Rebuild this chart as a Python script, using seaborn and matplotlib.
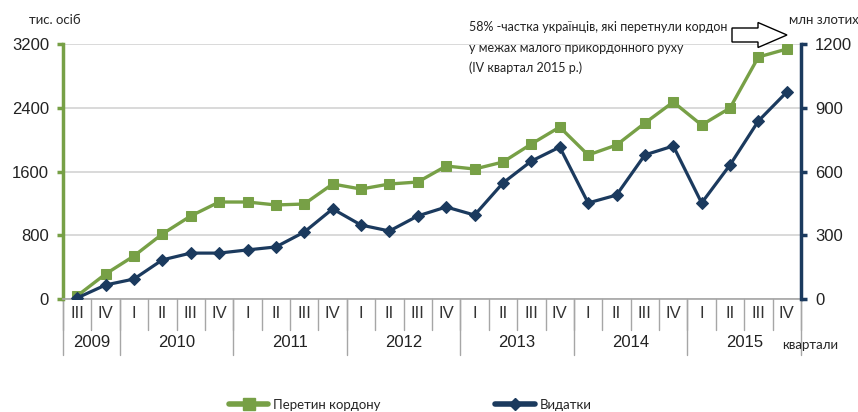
import numpy as np
import pandas as pd
import matplotlib
matplotlib.use("Agg")
import matplotlib.pyplot as plt
import matplotlib.patches as mpatches
from matplotlib.transforms import IdentityTransform
from matplotlib.lines import Line2D
import seaborn as sns

# data
quarters = ["III", "IV"] + ["I", "II", "III", "IV"] * 6
years = ["2009", "2010", "2011", "2012", "2013", "2014", "2015"]
year_len = [2, 4, 4, 4, 4, 4, 4]
crossings = [40, 314, 540, 816, 1042, 1217, 1217, 1180, 1192, 1443,
             1380, 1443, 1468, 1669, 1631, 1719, 1945, 2158, 1807, 1932,
             2208, 2472, 2183, 2397, 3037, 3137]
spending = [5, 66, 94, 184, 216, 216, 231, 245, 315, 424,
            348, 320, 391, 433, 395, 546, 649, 715, 452, 489,
            678, 720, 452, 631, 838, 974]

green = "#77A046"
navy = "#1B3A5E"
sep_color = "#A6A6A6"

sns.set_style("white")
plt.rcParams["font.family"] = ["Liberation Sans", "DejaVu Sans"]

df = pd.DataFrame({"idx": np.arange(len(crossings)),
                   "crossings": crossings,
                   "spending": spending})

fig = plt.figure(figsize=(8.58, 4.12), dpi=100)
ax = fig.add_axes([63 / 858, 1 - 299 / 412, (801 - 63) / 858, 255 / 412])
ax2 = ax.twinx()

sns.lineplot(data=df, x="idx", y="crossings", ax=ax, color=green, lw=2.4,
             marker="s", markersize=7.5, markeredgecolor=green, zorder=3)
sns.lineplot(data=df, x="idx", y="spending", ax=ax2, color=navy, lw=2.3,
             marker="D", markersize=6, markeredgecolor=navy, zorder=3)

ax.set_xlim(-0.5, len(crossings) - 0.5)
ax.set_ylim(0, 3200)
ax2.set_ylim(0, 1200)
ax.set_yticks([0, 800, 1600, 2400, 3200])
ax2.set_yticks([0, 300, 600, 900, 1200])
ax.yaxis.grid(True, color="#D9D9D9", lw=1.4)
ax.set_axisbelow(True)
ax.set_xlabel("")
ax.set_ylabel("")
ax2.set_ylabel("")
ax.set_xticks([])

for a in (ax, ax2):
    for s in a.spines.values():
        s.set_visible(False)
ax.spines["left"].set_visible(True)
ax.spines["left"].set_color(green)
ax.spines["left"].set_linewidth(2.5)
ax.spines["bottom"].set_visible(True)
ax.spines["bottom"].set_color(sep_color)
ax.spines["bottom"].set_linewidth(1.2)
ax2.spines["right"].set_visible(True)
ax2.spines["right"].set_color(navy)
ax2.spines["right"].set_linewidth(2.5)

ax.tick_params(axis="y", length=4, width=2.5, color=green, labelsize=12,
               pad=6, labelcolor="#222222")
ax2.tick_params(axis="y", length=4, width=2.5, color=navy, labelsize=12,
                pad=6, labelcolor="#222222")

# two-level category axis
tr = ax.get_xaxis_transform()
n = len(quarters)
for i in range(n + 1):
    ax.plot([i - 0.5, i - 0.5], [0, -0.12], transform=tr, color=sep_color,
            lw=1, clip_on=False)
bounds = np.concatenate([[0], np.cumsum(year_len)])
for b in bounds:
    ax.plot([b - 0.5, b - 0.5], [0, -0.22], transform=tr, color=sep_color,
            lw=1, clip_on=False)
for i, q in enumerate(quarters):
    ax.text(i, -0.055, q, transform=tr, ha="center", va="center",
            fontsize=12, color="#333333")
for y, s, l in zip(years, bounds[:-1], year_len):
    ax.text(s + (l - 1) / 2, -0.17, y, transform=tr, ha="center",
            va="center", fontsize=12, color="#222222")

fig.text(55 / 858, 1 - 20 / 412, "тис. осіб", ha="center", va="center",
         fontsize=9.5, family=["Lato", "DejaVu Sans"])
fig.text(824 / 858, 1 - 20 / 412, "млн злотих", ha="center", va="center",
         fontsize=9.5, family=["Lato", "DejaVu Sans"])
fig.text(810 / 858, 1 - 345 / 412, "квартали", ha="center", va="center",
         fontsize=9.5, family=["Lato", "DejaVu Sans"])

note = ["58% -частка українців, які перетнули кордон",
        "у межах малого прикордонного руху",
        "(IV квартал 2015 р.)"]
for k, line in enumerate(note):
    fig.text(469 / 858, 1 - (27 + 20.5 * k) / 412, line, ha="left",
             va="center", fontsize=9, family=["Lato", "DejaVu Sans"],
             color="#222222")

arrow = mpatches.FancyArrow(732, 412 - 35, 55, 0, width=14, head_width=25,
                            head_length=29, length_includes_head=True,
                            transform=IdentityTransform(), fc="white",
                            ec="black", lw=1)
fig.add_artist(arrow)

handles = [Line2D([], [], color=green, lw=4, marker="s", markersize=8),
           Line2D([], [], color=navy, lw=4, marker="D", markersize=6)]
fig.legend(handles, ["Перетин кордону", "Видатки"], loc="center",
           bbox_to_anchor=(410 / 858, 1 - 405 / 412), ncol=2, frameon=False,
           handlelength=3.0, handletextpad=0.35, columnspacing=8.7,
           prop={"family": ["Lato", "DejaVu Sans"], "size": 9.5})

fig.savefig("out.png", dpi=100)
